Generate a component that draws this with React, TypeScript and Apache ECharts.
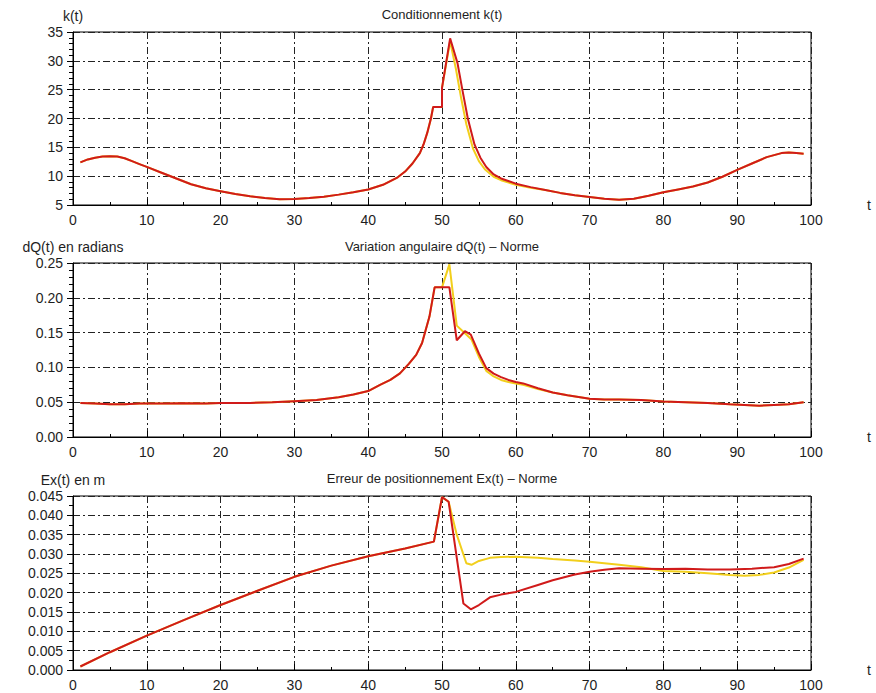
import React, { useEffect, useRef } from "react";
import * as echarts from "echarts";

// ---------- data ----------
const xTicks = { min: 0, max: 100, interval: 10 };

// Conditionnement k(t)
const kRedT = [1, 2, 3, 4, 5, 6, 7, 8, 9, 10, 12, 14, 16, 18, 20, 22, 24, 26, 28, 30, 32, 34, 36, 38, 40, 42, 44, 45, 46, 47, 47.5, 48, 48.5, 48.8, 50, 50, 51.1, 52.1, 52.8, 53.5, 54.4, 55.2, 56, 57, 58, 60, 62, 64, 66, 68, 70, 72, 74, 76, 78, 80, 82, 84, 86, 88, 90, 92, 94, 96, 97, 98, 99];
const kRedV = [12.4, 12.9, 13.2, 13.4, 13.45, 13.4, 13.1, 12.6, 12.1, 11.6, 10.6, 9.6, 8.6, 7.9, 7.4, 6.9, 6.5, 6.2, 6.0, 6.05, 6.2, 6.45, 6.8, 7.2, 7.7, 8.5, 9.8, 10.8, 12.2, 14.0, 15.5, 17.5, 20.0, 22.0, 22.0, 25.3, 33.9, 29.6, 24.7, 20.0, 15.5, 13.2, 11.6, 10.3, 9.6, 8.7, 8.1, 7.6, 7.1, 6.7, 6.4, 6.1, 5.9, 6.1, 6.6, 7.2, 7.7, 8.2, 8.9, 9.9, 11.1, 12.2, 13.3, 14.0, 14.1, 14.0, 13.9];
const kYellowT = [1, 2, 3, 4, 5, 6, 7, 8, 9, 10, 12, 14, 16, 18, 20, 22, 24, 26, 28, 30, 32, 34, 36, 38, 40, 42, 44, 45, 46, 47, 47.5, 48, 48.5, 48.8, 50, 50, 51.1, 51.9, 52.6, 53.3, 54.2, 55, 55.8, 57, 58, 60, 62, 64, 66, 68, 70, 72, 74, 76, 78, 80, 82, 84, 86, 88, 90, 92, 94, 96, 97, 98, 99];
const kYellowV = [12.4, 12.9, 13.2, 13.4, 13.45, 13.4, 13.1, 12.6, 12.1, 11.6, 10.6, 9.6, 8.6, 7.9, 7.4, 6.9, 6.5, 6.2, 6.0, 6.05, 6.2, 6.45, 6.8, 7.2, 7.7, 8.5, 9.8, 10.8, 12.2, 14.0, 15.5, 17.5, 20.0, 22.0, 22.0, 25.3, 33.4, 28.5, 23.5, 19.0, 14.8, 12.6, 11.2, 9.9, 9.3, 8.5, 8.0, 7.6, 7.1, 6.7, 6.4, 6.1, 5.9, 6.1, 6.6, 7.2, 7.7, 8.2, 8.9, 9.9, 11.1, 12.2, 13.3, 14.0, 14.1, 14.0, 13.9];

// Variation angulaire dQ(t)
const dqRedT = [1, 3, 5, 7, 9, 12, 15, 18, 20, 24, 27, 30, 33, 36, 38, 40, 41.6, 43, 44.3, 45.5, 46.5, 47.3, 48.3, 49, 51, 52, 53.1, 53.9, 55, 56, 57, 58, 59, 60, 61, 63, 65, 67, 70, 72, 74, 77, 80, 83, 86, 89, 91, 93, 95, 97, 99];
const dqRedV = [0.049, 0.048, 0.047, 0.047, 0.048, 0.048, 0.0485, 0.048, 0.049, 0.049, 0.050, 0.0515, 0.053, 0.057, 0.061, 0.066, 0.075, 0.082, 0.0915, 0.105, 0.118, 0.135, 0.173, 0.215, 0.215, 0.139, 0.152, 0.147, 0.12, 0.099, 0.091, 0.086, 0.082, 0.079, 0.077, 0.070, 0.064, 0.060, 0.055, 0.054, 0.054, 0.053, 0.051, 0.050, 0.049, 0.047, 0.046, 0.045, 0.046, 0.047, 0.050];
const dqYellowT = [1, 3, 5, 7, 9, 12, 15, 18, 20, 24, 27, 30, 33, 36, 38, 40, 41.6, 43, 44.3, 45.5, 46.5, 47.3, 48.3, 49, 50, 51, 52, 53, 54, 55, 56, 57, 58, 59, 60, 61, 63, 65, 67, 70, 72, 74, 77, 80, 83, 86, 89, 91, 93, 95, 97, 99];
const dqYellowV = [0.049, 0.048, 0.047, 0.047, 0.048, 0.048, 0.0485, 0.048, 0.049, 0.049, 0.050, 0.0515, 0.053, 0.057, 0.061, 0.066, 0.075, 0.082, 0.0915, 0.105, 0.118, 0.135, 0.173, 0.215, 0.215, 0.248, 0.16, 0.150, 0.14, 0.115, 0.095, 0.087, 0.082, 0.079, 0.077, 0.075, 0.069, 0.064, 0.060, 0.055, 0.054, 0.054, 0.053, 0.051, 0.050, 0.049, 0.047, 0.046, 0.045, 0.046, 0.047, 0.050];

// Erreur de positionnement Ex(t)
const exRedT = [1, 5, 10, 15, 20, 25, 30, 35, 40, 45, 48.9, 50, 50.9, 52.9, 53.9, 55, 56.5, 58, 60, 63, 65, 68, 70, 72, 74, 77, 80, 83, 86, 89, 92, 95, 97, 99];
const exRedV = [0.0009, 0.0046, 0.0089, 0.0129, 0.0168, 0.0205, 0.0241, 0.027, 0.0294, 0.0314, 0.0332, 0.0447, 0.0435, 0.0172, 0.0157, 0.0168, 0.0188, 0.0195, 0.0202, 0.022, 0.0232, 0.0247, 0.0254, 0.0259, 0.0263, 0.0262, 0.0261, 0.0262, 0.026, 0.026, 0.0262, 0.0266, 0.0274, 0.0288];
const exYellowT = [1, 5, 10, 15, 20, 25, 30, 35, 40, 45, 48.9, 50, 50.9, 52, 53.3, 54, 55, 56.5, 58, 60, 63, 65, 68, 70, 72, 74, 77, 80, 83, 86, 89, 91, 93, 95, 97, 99];
const exYellowV = [0.0009, 0.0046, 0.0089, 0.0129, 0.0168, 0.0205, 0.0241, 0.027, 0.0294, 0.0314, 0.0332, 0.0447, 0.0435, 0.035, 0.0276, 0.0272, 0.0282, 0.029, 0.0292, 0.0293, 0.029, 0.0287, 0.0283, 0.028, 0.0276, 0.0272, 0.0266, 0.0256, 0.0254, 0.025, 0.0246, 0.0244, 0.0246, 0.0252, 0.0265, 0.0285];

const titles = ["Conditionnement k(t)", "Variation angulaire dQ(t) \u2013 Norme", "Erreur de positionnement Ex(t) \u2013 Norme"];
const yNames = ["k(t)", "dQ(t) en radians", "Ex(t) en m"];
const yRanges = [
  { min: 5, max: 35, interval: 5, decimals: 0, minorSplit: 5 },
  { min: 0, max: 0.25, interval: 0.05, decimals: 2, minorSplit: 5 },
  { min: 0, max: 0.045, interval: 0.005, decimals: 3, minorSplit: 2 },
];

const RED = "#d01a1a";
const YELLOW = "#f2cf1c";
const FONT = "'Liberation Sans', Arial, sans-serif";
const TXT = "#1e1e1e";

const zip = (t: number[], v: number[]) => t.map((x, i) => [x, v[i]]);

export default function App() {
  const ref = useRef<HTMLDivElement>(null);
  useEffect(() => {
    const chart = echarts.init(ref.current!, null, { renderer: "svg" });
    const gridTops = [32, 263, 496];
    const gridHeights = [173, 174, 174];
    const grid = gridTops.map((top, i) => ({
      left: 73,
      top,
      width: 738,
      height: gridHeights[i],
      show: true,
      borderColor: "#000",
      borderWidth: 1,
      backgroundColor: "transparent",
    }));
    const dashDot = [7, 3, 2, 3];
    const xAxis = [0, 1, 2].map((i) => ({
      type: "value",
      gridIndex: i,
      min: xTicks.min,
      max: xTicks.max,
      interval: xTicks.interval,
      name: "t",
      nameLocation: "end",
      nameGap: 56,
      nameTextStyle: { fontSize: 14, color: TXT, fontFamily: FONT, padding: [8, 0, 0, 0] },
      axisLine: { show: true, lineStyle: { color: "#000", width: 1 } },
      axisTick: { show: true, inside: true, length: 6, lineStyle: { color: "#000" } },
      minorTick: { show: true, splitNumber: 2, length: 3, lineStyle: { color: "#000" } },
      axisLabel: { fontSize: 14, color: TXT, fontFamily: FONT, margin: 8 },
      splitLine: { show: true, lineStyle: { color: "#222", width: 1, type: dashDot } },
    }));
    const yAxis = yRanges.map((r, i) => ({
      type: "value",
      gridIndex: i,
      min: r.min,
      max: r.max,
      interval: r.interval,
      name: yNames[i],
      nameLocation: "end",
      nameGap: 9,
      nameTextStyle: { fontSize: 14, color: TXT, fontFamily: FONT, align: "center" },
      axisLine: { show: true, lineStyle: { color: "#000", width: 1 } },
      axisTick: { show: true, inside: false, length: 6, lineStyle: { color: "#000" } },
      minorTick: { show: true, splitNumber: r.minorSplit, length: 4, lineStyle: { color: "#000" } },
      axisLabel: {
        fontSize: 14,
        color: TXT,
        fontFamily: FONT,
        margin: 10,
        formatter: (v: number) => v.toFixed(r.decimals),
      },
      splitLine: { show: true, lineStyle: { color: "#222", width: 1, type: dashDot } },
    }));
    const mk = (data: number[][], idx: number, color: string, z: number) => ({
      type: "line",
      xAxisIndex: idx,
      yAxisIndex: idx,
      data,
      showSymbol: false,
      symbol: "none",
      z,
      lineStyle: { color, width: 2 },
    });
    const series = [
      mk(zip(kYellowT, kYellowV), 0, YELLOW, 2),
      mk(zip(kRedT, kRedV), 0, RED, 3),
      mk(zip(dqYellowT, dqYellowV), 1, YELLOW, 2),
      mk(zip(dqRedT, dqRedV), 1, RED, 3),
      mk(zip(exYellowT, exYellowV), 2, YELLOW, 2),
      mk(zip(exRedT, exRedV), 2, RED, 3),
    ];
    const titleYs = [14, 246, 478];
    const graphic = titles.map((t, i) => ({
      type: "text",
      x: 442,
      y: titleYs[i],
      style: {
        text: t,
        fill: TXT,
        font: `13px ${FONT}`,
        textAlign: "center",
        textVerticalAlign: "middle",
      },
    }));
    chart.setOption({
      animation: false,
      backgroundColor: "#fff",
      grid,
      xAxis,
      yAxis,
      series,
      graphic,
    } as any);
    return () => chart.dispose();
  }, []);
  return (
    <div
      ref={ref}
      style={{ position: "fixed", left: 0, top: 0, width: 876, height: 693, background: "#fff" }}
    />
  );
}
